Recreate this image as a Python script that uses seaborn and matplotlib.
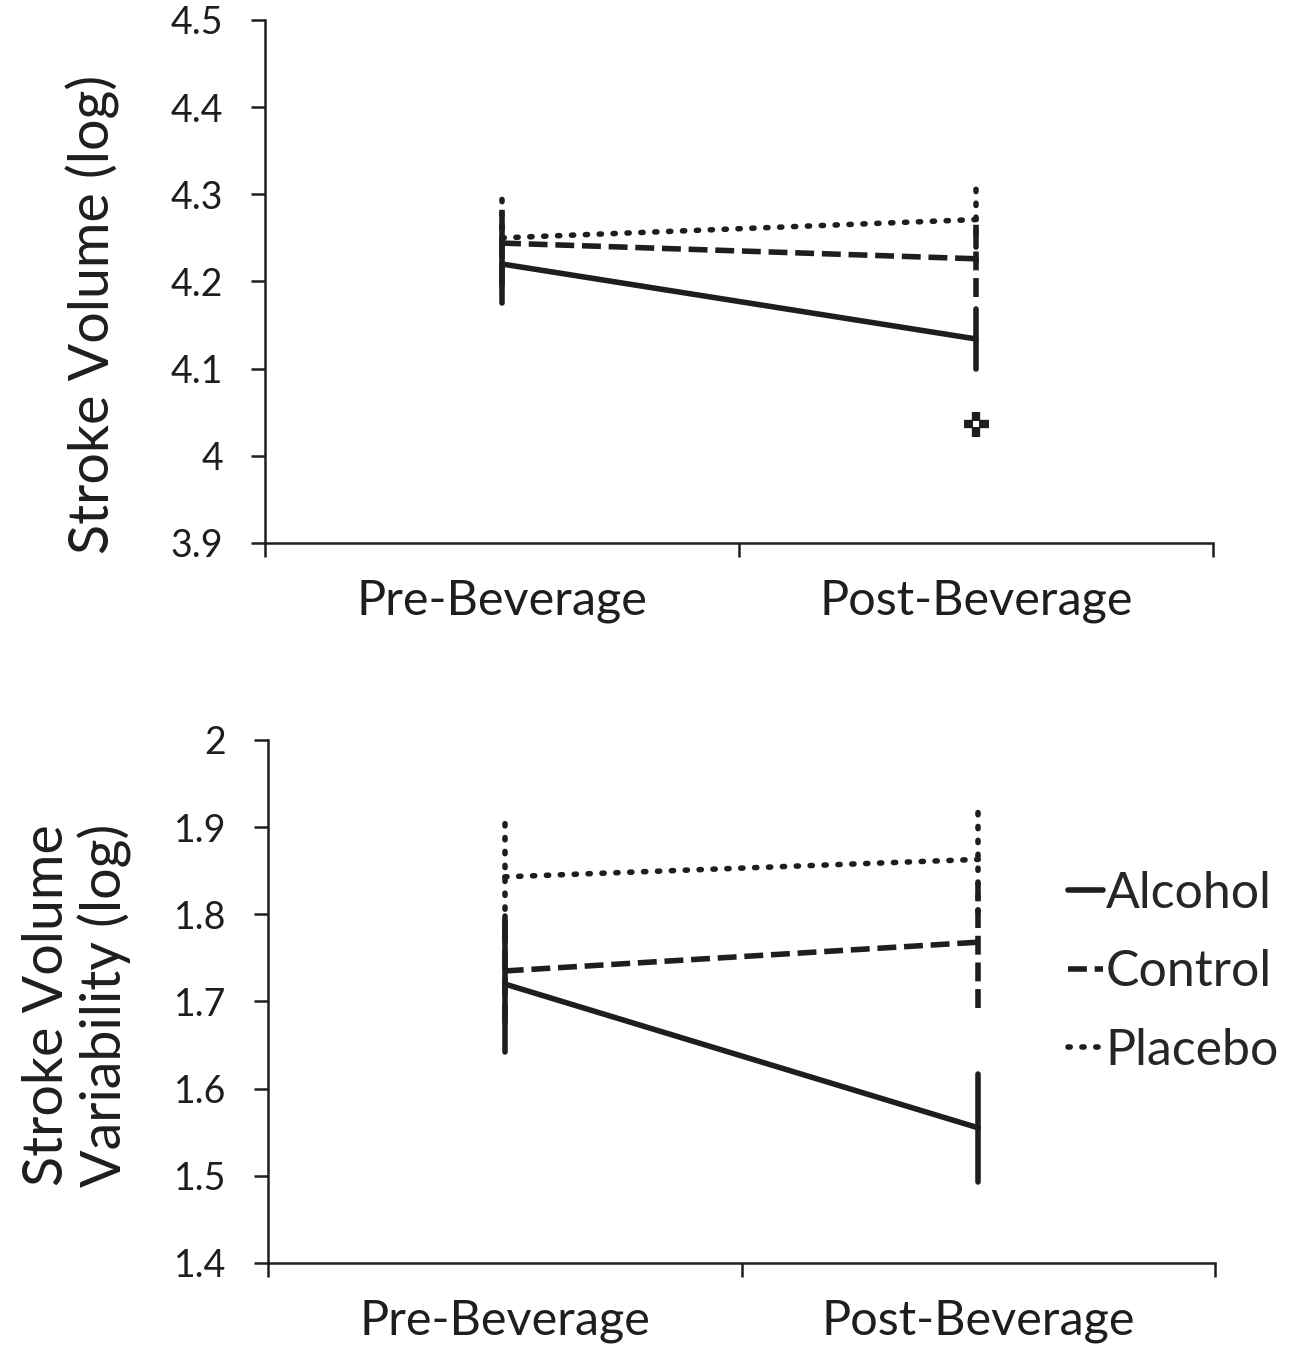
import numpy as np
import pandas as pd
import matplotlib
matplotlib.use("Agg")
import matplotlib.pyplot as plt
import seaborn as sns
from matplotlib.ticker import FuncFormatter, MultipleLocator

# Data (log scale values, error = SE)
times = ["Pre-Beverage", "Post-Beverage"]
groups = ["Alcohol", "Control", "Placebo"]

sv_alcohol = [4.220, 4.134]
sv_control = [4.244, 4.226]
sv_placebo = [4.250, 4.271]
sv_err_alcohol = [0.045, 0.034]
sv_err_control = [0.045, 0.044]
sv_err_placebo = [0.054, 0.048]
sv_mark = [4.037]          # significance marker at Post-Beverage

svv_alcohol = [1.720, 1.555]
svv_control = [1.735, 1.768]
svv_placebo = [1.843, 1.863]
svv_err_alcohol = [0.078, 0.062]
svv_err_control = [0.060, 0.075]
svv_err_placebo = [0.069, 0.060]

sns.set_theme(style="ticks")
plt.rcParams["font.family"] = ["Lato", "DejaVu Sans"]
plt.rcParams["axes.linewidth"] = 1.8

INK = "#1e1e1e"
LW = 4.0
styles = {
    "Alcohol": dict(linestyle="-", dash_capstyle="butt"),
    "Control": dict(linestyle=(0, (3.4, 1.4)), dash_capstyle="butt"),
    "Placebo": dict(linestyle=(0, (0.4, 2.1)), dash_capstyle="round"),
}


def draw_panel(ax, series, errs, ylim, ylabel):
    xpos = np.arange(len(times))
    handles = []
    for g in groups:
        sns.lineplot(x=xpos, y=series[g], color=INK, linewidth=LW, errorbar=None,
                     sort=False, legend=False, ax=ax, **styles[g])
        handles.append(ax.get_lines()[-1])
    # error bars in each group's own line style
    for g in ["Placebo", "Control", "Alcohol"]:
        vals = np.asarray(series[g])
        e = np.asarray(errs[g])
        for x, v, d in zip(xpos, vals, e):
            ax.plot([x, x], [v - d, v + d], color=INK, linewidth=LW, zorder=3,
                    **styles[g])

    ax.set_xlim(-0.5, len(times) - 0.5)
    ax.set_ylim(*ylim)
    ax.yaxis.set_major_locator(MultipleLocator(0.1))
    ax.yaxis.set_major_formatter(FuncFormatter(lambda v, p: f"{round(v, 2):g}"))
    ax.set_xticks(np.arange(len(times) + 1) - 0.5)
    ax.set_xticklabels([])
    ax.set_xticks(xpos, minor=True)
    ax.set_xticklabels(times, minor=True)
    ax.tick_params(axis="x", which="major", length=10, width=1.8, color=INK)
    ax.tick_params(axis="x", which="minor", length=0, pad=26, labelsize=35,
                   labelcolor=INK)
    ax.tick_params(axis="y", length=10, width=1.8, pad=20, labelsize=27,
                   color=INK, labelcolor=INK)
    ax.set_xlabel("")
    ax.set_ylabel(ylabel, fontsize=40, color=INK, linespacing=1.1)
    for s in ["left", "bottom"]:
        ax.spines[s].set_color(INK)
    sns.despine(ax=ax)
    return handles


fig = plt.figure(figsize=(13.03, 13.57), dpi=100)
ax1 = fig.add_axes([0.2034, 0.5999, 0.7276, 0.3854])
ax2 = fig.add_axes([0.2057, 0.0693, 0.7268, 0.3854])

draw_panel(ax1,
           {"Alcohol": sv_alcohol, "Control": sv_control, "Placebo": sv_placebo},
           {"Alcohol": sv_err_alcohol, "Control": sv_err_control, "Placebo": sv_err_placebo},
           (3.9, 4.5), "Stroke Volume (log)")
# significance marker (hollow-centre cross) at Post-Beverage
ax1.plot([1], sv_mark, marker="+", ms=18, mew=6, color=INK, zorder=4)
ax1.plot([1], sv_mark, marker="s", ms=5, color="white", mew=0, zorder=5)
ax1.yaxis.set_label_coords(-0.153, 0.436)

handles = draw_panel(ax2,
                     {"Alcohol": svv_alcohol, "Control": svv_control, "Placebo": svv_placebo},
                     {"Alcohol": svv_err_alcohol, "Control": svv_err_control, "Placebo": svv_err_placebo},
                     (1.4, 2.0), "Stroke Volume\nVariability (log)")
ax2.yaxis.set_label_coords(-0.144, 0.493)

ax2.legend(handles, groups, loc="center left", bbox_to_anchor=(0.845, 0.556),
           frameon=False, fontsize=36, handlelength=0.7, handletextpad=0.05,
           labelspacing=0.65, borderpad=0, borderaxespad=0)

fig.savefig("out.png", dpi=100)
